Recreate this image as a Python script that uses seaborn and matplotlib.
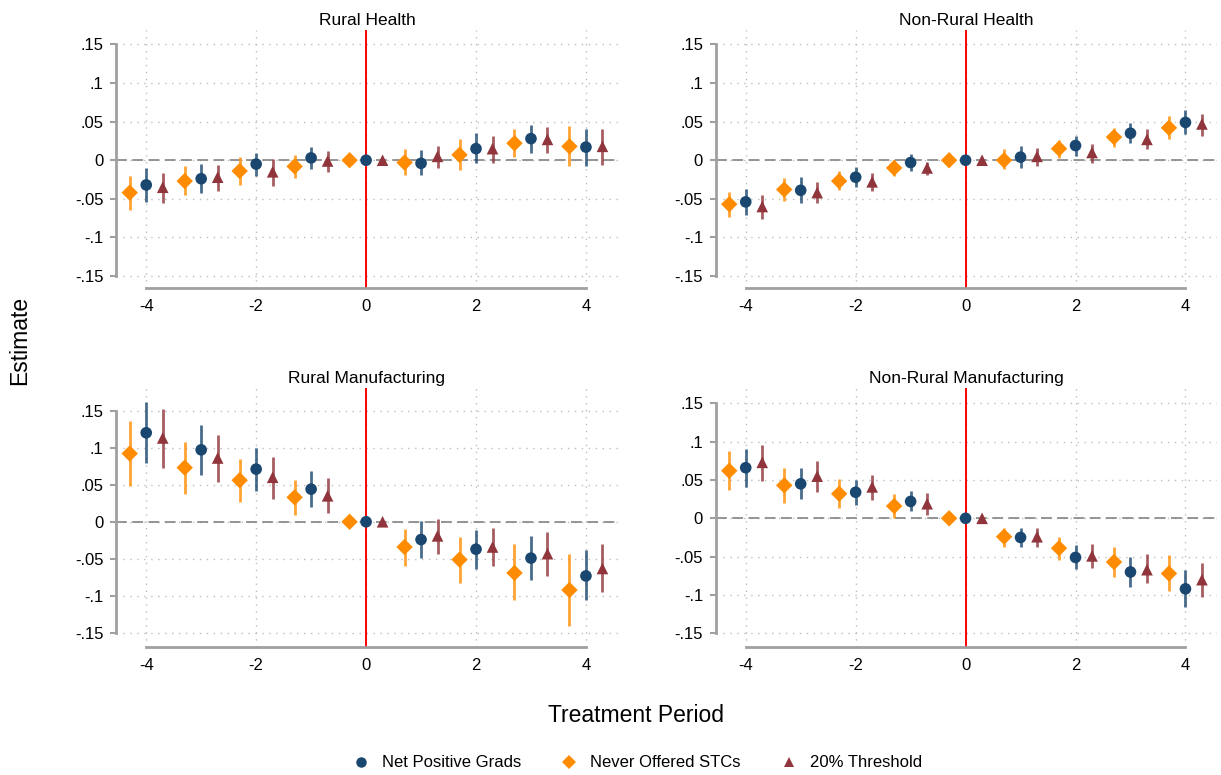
import numpy as np
import pandas as pd
import matplotlib.pyplot as plt
import seaborn as sns

# periods and series
periods = [-4, -3, -2, -1, 0, 1, 2, 3, 4]
series_names = ['Net Positive Grads', 'Never Offered STCs', '20% Threshold']
panel_titles = ['Rural Health', 'Non-Rural Health', 'Rural Manufacturing', 'Non-Rural Manufacturing']
y_ticks = [-0.15, -0.1, -0.05, 0, 0.05, 0.1, 0.15]
y_labels = ['-.15', '-.1', '-.05', '0', '.05', '.1', '.15']
x_ticks = [-4, -2, 0, 2, 4]

# Rural Health
rh_net = [-0.032, -0.024, -0.005, 0.003, 0, -0.004, 0.015, 0.028, 0.017]
rh_net_lo = [-0.054, -0.043, -0.020, -0.011, 0, -0.019, -0.003, 0.009, -0.008]
rh_net_hi = [-0.010, -0.005, 0.010, 0.017, 0, 0.013, 0.035, 0.046, 0.041]
rh_nev = [-0.042, -0.027, -0.014, -0.008, 0, -0.003, 0.007, 0.022, 0.018]
rh_nev_lo = [-0.065, -0.045, -0.032, -0.023, 0, -0.019, -0.013, 0.004, -0.008]
rh_nev_hi = [-0.020, -0.008, 0.004, 0.007, 0, 0.014, 0.027, 0.041, 0.044]
rh_thr = [-0.035, -0.022, -0.015, -0.001, 0, 0.005, 0.015, 0.027, 0.018]
rh_thr_lo = [-0.055, -0.040, -0.033, -0.015, 0, -0.010, -0.003, 0.009, -0.006]
rh_thr_hi = [-0.017, -0.006, 0.002, 0.012, 0, 0.018, 0.031, 0.043, 0.040]

# Non-Rural Health
nh_net = [-0.054, -0.039, -0.022, -0.003, 0, 0.004, 0.019, 0.035, 0.049]
nh_net_lo = [-0.071, -0.055, -0.035, -0.014, 0, -0.010, 0.006, 0.022, 0.034]
nh_net_hi = [-0.037, -0.022, -0.009, 0.008, 0, 0.018, 0.031, 0.048, 0.065]
nh_nev = [-0.057, -0.038, -0.027, -0.010, 0, 0.000, 0.015, 0.030, 0.042]
nh_nev_lo = [-0.073, -0.053, -0.038, -0.020, 0, -0.012, 0.003, 0.017, 0.028]
nh_nev_hi = [-0.041, -0.023, -0.014, 0.000, 0, 0.014, 0.026, 0.042, 0.057]
nh_thr = [-0.060, -0.042, -0.028, -0.010, 0, 0.005, 0.010, 0.027, 0.047]
nh_thr_lo = [-0.076, -0.055, -0.040, -0.019, 0, -0.007, -0.004, 0.015, 0.032]
nh_thr_hi = [-0.045, -0.028, -0.017, -0.002, 0, 0.016, 0.021, 0.040, 0.060]

# Rural Manufacturing
rm_net = [0.120, 0.097, 0.071, 0.044, 0, -0.024, -0.037, -0.049, -0.073]
rm_net_lo = [0.079, 0.063, 0.042, 0.020, 0, -0.049, -0.063, -0.078, -0.106]
rm_net_hi = [0.161, 0.131, 0.099, 0.068, 0, 0.001, -0.011, -0.019, -0.038]
rm_nev = [0.092, 0.073, 0.056, 0.033, 0, -0.034, -0.051, -0.069, -0.092]
rm_nev_lo = [0.048, 0.038, 0.027, 0.009, 0, -0.060, -0.082, -0.106, -0.140]
rm_nev_hi = [0.136, 0.107, 0.084, 0.057, 0, -0.010, -0.021, -0.030, -0.043]
rm_thr = [0.113, 0.086, 0.060, 0.035, 0, -0.019, -0.034, -0.043, -0.063]
rm_thr_lo = [0.073, 0.053, 0.031, 0.012, 0, -0.044, -0.060, -0.073, -0.095]
rm_thr_hi = [0.152, 0.117, 0.087, 0.059, 0, 0.004, -0.008, -0.014, -0.030]

# Non-Rural Manufacturing
nm_net = [0.066, 0.045, 0.034, 0.022, 0, -0.025, -0.051, -0.070, -0.092]
nm_net_lo = [0.041, 0.025, 0.017, 0.009, 0, -0.038, -0.066, -0.089, -0.116]
nm_net_hi = [0.090, 0.065, 0.050, 0.036, 0, -0.013, -0.035, -0.051, -0.068]
nm_nev = [0.062, 0.043, 0.032, 0.016, 0, -0.024, -0.039, -0.057, -0.072]
nm_nev_lo = [0.037, 0.020, 0.013, 0.000, 0, -0.038, -0.055, -0.077, -0.095]
nm_nev_hi = [0.088, 0.066, 0.051, 0.032, 0, -0.012, -0.024, -0.038, -0.048]
nm_thr = [0.073, 0.055, 0.041, 0.019, 0, -0.024, -0.049, -0.067, -0.080]
nm_thr_lo = [0.049, 0.034, 0.024, 0.004, 0, -0.037, -0.065, -0.085, -0.102]
nm_thr_hi = [0.096, 0.075, 0.057, 0.033, 0, -0.013, -0.034, -0.047, -0.058]

panels = [
    [(rh_net, rh_net_lo, rh_net_hi), (rh_nev, rh_nev_lo, rh_nev_hi), (rh_thr, rh_thr_lo, rh_thr_hi)],
    [(nh_net, nh_net_lo, nh_net_hi), (nh_nev, nh_nev_lo, nh_nev_hi), (nh_thr, nh_thr_lo, nh_thr_hi)],
    [(rm_net, rm_net_lo, rm_net_hi), (rm_nev, rm_nev_lo, rm_nev_hi), (rm_thr, rm_thr_lo, rm_thr_hi)],
    [(nm_net, nm_net_lo, nm_net_hi), (nm_nev, nm_nev_lo, nm_nev_hi), (nm_thr, nm_thr_lo, nm_thr_hi)],
]

# styling
colors = {'Net Positive Grads': '#1a476f', 'Never Offered STCs': '#ff8c00', '20% Threshold': '#90353b'}
markers = {'Net Positive Grads': 'o', 'Never Offered STCs': 'D', '20% Threshold': '^'}
offsets = {'Net Positive Grads': 0.0, 'Never Offered STCs': -0.3, '20% Threshold': 0.3}
axis_gray = '#a0a0a0'

sns.set_theme(style='white')
plt.rcParams['font.family'] = ['Liberation Sans', 'DejaVu Sans']
plt.rcParams['text.color'] = 'black'
plt.rcParams['xtick.color'] = 'black'
plt.rcParams['ytick.color'] = 'black'

fig = plt.figure(figsize=(12.21, 7.75), dpi=100)
rects = [
    [0.095, 0.628, 0.411, 0.333],
    [0.586, 0.628, 0.411, 0.333],
    [0.095, 0.165, 0.411, 0.334],
    [0.586, 0.165, 0.411, 0.334],
]
ylims = [(-0.166, 0.1685), (-0.166, 0.1685), (-0.169, 0.180), (-0.168, 0.1696)]

handles, labels = None, None
for i, (rect, data) in enumerate(zip(rects, panels)):
    ax = fig.add_axes(rect)
    rows = []
    for name, (est, lo, hi) in zip(series_names, data):
        for p, e, l, h in zip(periods, est, lo, hi):
            rows.append({'x': p + offsets[name], 'est': e, 'lo': l, 'hi': h, 'series': name})
    df = pd.DataFrame(rows)

    ax.axhline(0, color='#8c8c8c', lw=1.3, ls=(0, (6, 3)), zorder=1)
    ax.axvline(0, color='red', lw=1.4, zorder=2)
    for name in series_names:
        sub = df[df['series'] == name]
        ax.vlines(sub['x'], sub['lo'], sub['hi'], color=colors[name], lw=2.0, alpha=0.8, zorder=3)

    sns.scatterplot(data=df, x='x', y='est', hue='series', style='series',
                    hue_order=series_names, style_order=series_names,
                    palette=colors, markers=markers, s=70, linewidth=0,
                    ax=ax, zorder=4, legend=(i == 0))
    if i == 0:
        handles, labels = ax.get_legend_handles_labels()
        ax.get_legend().remove()

    ax.set_xlim(-4.55, 4.58)
    ax.set_ylim(*ylims[i])
    ax.set_xticks(x_ticks)
    ax.set_xticklabels([str(t) for t in x_ticks])
    ax.set_yticks(y_ticks)
    ax.set_yticklabels(y_labels)
    ax.grid(True, color='#bdbdbd', lw=1.0, ls=(0, (1, 4)))
    ax.set_axisbelow(True)
    ax.set_xlabel('')
    ax.set_ylabel('')
    ax.set_title(panel_titles[i], fontsize=12.5, pad=4, color='black')

    for s in ['top', 'right']:
        ax.spines[s].set_visible(False)
    for s in ['left', 'bottom']:
        ax.spines[s].set_color(axis_gray)
        ax.spines[s].set_linewidth(2.0)
    ax.spines['left'].set_bounds(-0.15, 0.15)
    ax.spines['bottom'].set_bounds(-4, 4)
    ax.tick_params(axis='y', left=True, length=4, width=1.5, color=axis_gray,
                   labelcolor='black', pad=5, labelsize=12)
    ax.tick_params(axis='x', bottom=False, length=0, labelcolor='black', pad=8, labelsize=12)

fig.text(0.016, 0.561, 'Estimate', rotation=90, ha='center', va='center', fontsize=16.5, color='black')
fig.text(0.521, 0.077, 'Treatment Period', ha='center', va='center', fontsize=16.5, color='black')

leg = fig.legend(handles, labels, loc='center', bbox_to_anchor=(0.522, 0.0155), ncol=3,
                 frameon=False, fontsize=12, handlelength=1.0, handletextpad=0.76,
                 columnspacing=2.4, markerscale=0.9)
for t in leg.get_texts():
    t.set_color('black')

fig.savefig('out.png', dpi=100)
